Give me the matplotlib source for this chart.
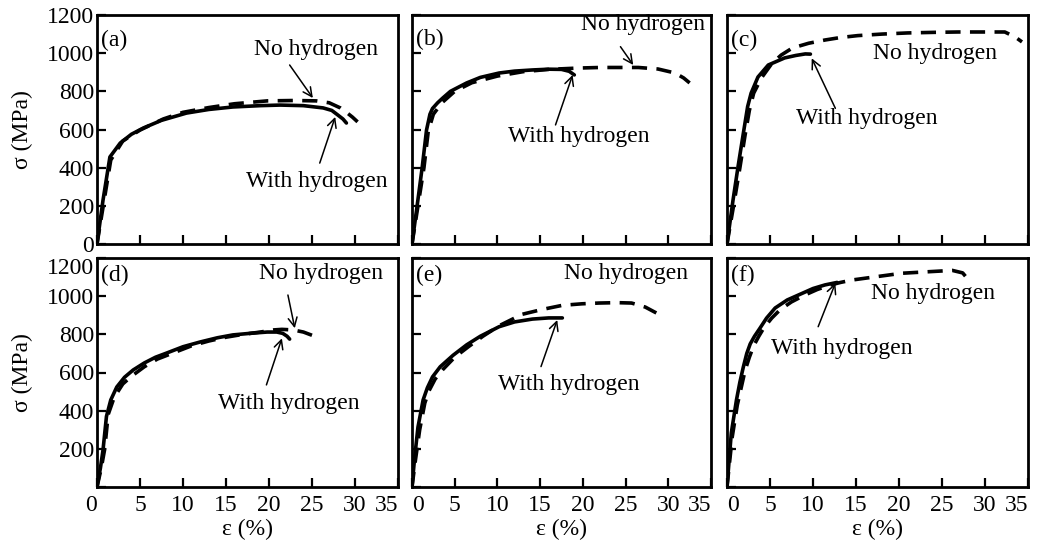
import matplotlib
matplotlib.use("Agg")
import matplotlib.pyplot as plt

plt.rcParams['font.family'] = ['Liberation Serif', 'DejaVu Serif']

# ---------------- data (strain %, stress MPa) ----------------
a_with_eps = [0, 0.7, 1.5, 2.7, 4, 5.4, 7.5, 10.4, 13, 15.8, 19, 21.3, 24, 26.3, 27.3, 28, 28.6, 29]
a_with_sig = [0, 230, 456, 529, 575, 608, 648, 686, 705, 718, 725, 728, 725, 713, 700, 676, 655, 634]
a_no_eps = [0, 0.8, 1.6, 3, 5, 7.7, 10, 13, 16, 19.8, 23, 25.5, 27, 28.3, 29, 29.7, 30.3]
a_no_sig = [0, 220, 440, 540, 597, 655, 690, 715, 735, 750, 752, 750, 740, 713, 690, 665, 640]

b_with_eps = [0, 0.6, 1.2, 1.7, 2.1, 2.4, 3.0, 3.6, 4.5, 6.4, 8, 10.2, 12, 14.1, 16, 17.5, 18.4, 19]
b_with_sig = [0, 200, 404, 597, 680, 710, 740, 765, 800, 844, 873, 896, 906, 912, 916, 915, 905, 886]
b_no_eps = [0, 0.7, 1.4, 1.9, 2.5, 3.5, 5, 7, 10, 13, 16, 19.5, 22, 24, 26.5, 28.8, 30.8, 31.8, 32.5]
b_no_sig = [0, 200, 400, 590, 680, 740, 800, 845, 880, 903, 915, 922, 925, 925, 925, 917, 896, 870, 844]

c_with_eps = [0, 0.7, 1.3, 1.9, 2.4, 2.8, 3.6, 4.8, 6.7, 8, 9.1, 9.7]
c_with_sig = [0, 230, 410, 580, 720, 790, 875, 938, 975, 988, 996, 995]
c_no_eps = [0, 0.8, 1.5, 2.1, 2.6, 3.1, 4.0, 5.2, 6.3, 7.6, 9.5, 11.4, 13.2, 15.2, 18, 21, 24, 26.9, 30, 32.3, 33.5, 34.3]
c_no_sig = [0, 210, 400, 570, 700, 790, 870, 945, 990, 1027, 1052, 1069, 1082, 1092, 1100, 1106, 1109, 1111, 1111, 1111, 1085, 1059]

d_with_eps = [0, 0.4, 0.7, 1.1, 1.6, 2.3, 3.2, 4.2, 5.5, 6.8, 8.1, 10, 12, 14, 15.8, 18, 19.8, 20.9, 21.6, 22.1, 22.4]
d_with_sig = [0, 100, 194, 370, 456, 524, 575, 613, 650, 680, 702, 735, 760, 782, 797, 806, 812, 812, 805, 790, 775]
d_no_eps = [0, 0.5, 0.9, 1.3, 2, 3, 4, 5.5, 7, 9, 11, 13, 15, 17, 19, 20.5, 21.5, 22.8, 24, 25, 25.6]
d_no_sig = [0, 100, 200, 380, 470, 540, 580, 630, 670, 705, 740, 765, 785, 800, 812, 823, 826, 823, 812, 795, 786]

e_with_eps = [0, 0.3, 0.7, 1.3, 1.8, 2.4, 3.3, 4.8, 6.4, 8, 10.2, 12, 14.1, 16, 17.6]
e_with_sig = [0, 150, 314, 456, 520, 577, 630, 690, 745, 790, 840, 865, 880, 886, 886]
e_no_eps = [0, 0.4, 0.9, 1.5, 2, 2.7, 3.6, 5, 6.6, 8.3, 10.2, 12.9, 15.2, 17.6, 19.9, 21.9, 24, 25.7, 27.3, 28.6]
e_no_sig = [0, 140, 300, 440, 505, 565, 615, 680, 735, 790, 845, 905, 930, 952, 960, 964, 966, 964, 943, 912]

f_with_eps = [0, 0.5, 1.1, 1.5, 1.9, 2.3, 2.7, 3.2, 3.8, 4.6, 5.6, 7, 8.3, 10, 11.4, 12.8]
f_with_sig = [0, 283, 456, 550, 629, 700, 750, 790, 830, 885, 938, 980, 1006, 1040, 1059, 1072]
f_no_eps = [0, 0.6, 1.2, 1.7, 2.1, 2.6, 3.1, 3.7, 4.3, 5.2, 6.2, 7.5, 9, 10.5, 12, 13.2, 14.6, 17.2, 20.3, 23, 26.2, 27.4, 27.9]
f_no_sig = [0, 260, 430, 530, 610, 680, 740, 790, 835, 885, 930, 970, 1005, 1035, 1058, 1072, 1085, 1101, 1120, 1127, 1135, 1122, 1095]

panel_labels = ['(a)', '(b)', '(c)', '(d)', '(e)', '(f)']
x_ticks = [0, 5, 10, 15, 20, 25, 30, 35]
y_ticks = [0, 200, 400, 600, 800, 1000, 1200]
no_h_text = 'No hydrogen'
with_h_text = 'With hydrogen'

series = [
    (a_with_eps, a_with_sig, a_no_eps, a_no_sig),
    (b_with_eps, b_with_sig, b_no_eps, b_no_sig),
    (c_with_eps, c_with_sig, c_no_eps, c_no_sig),
    (d_with_eps, d_with_sig, d_no_eps, d_no_sig),
    (e_with_eps, e_with_sig, e_no_eps, e_no_sig),
    (f_with_eps, f_with_sig, f_no_eps, f_no_sig),
]

# ---------------- layout (annotation placement, data coords) ----------------
annot = [
    ((25.5, 1017), ((22.4, 938), (25.1, 765)), (25.6, 325), ((25.9, 424), (27.7, 666))),
    ((27.0, 1148), ((24.4, 1034), (25.9, 938)), (19.5, 562), ((16.8, 624), (18.8, 886))),
    ((24.2, 999), None, (16.2, 659), ((12.6, 711), (9.85, 973))),
    ((26.0, 1120), ((22.2, 1006), (23.0, 832)), (22.3, 439), ((19.7, 535), (21.5, 779))),
    ((25.1, 1120), None, (18.3, 535), ((15.1, 631), (17.0, 875))),
    ((24.0, 1015), None, (13.4, 727), ((10.6, 840), (12.6, 1068))),
]
label_y = [0.89, 0.895, 0.89, 0.925, 0.925, 0.925]
first_xlabel_ha = ['center', 'center', 'center', 'right', 'left', 'left']

W, H = 1043, 542
cols = [(97, 398), (412, 711), (727, 1028)]
rows = [(15, 244), (258, 487)]

fig = plt.figure(figsize=(W / 100, H / 100), dpi=100)
FS = 17

for i in range(6):
    r, c = divmod(i, 3)
    x0, x1 = cols[c]
    y0, y1 = rows[r]
    ax = fig.add_axes([x0 / W, 1 - y1 / H, (x1 - x0) / W, (y1 - y0) / H])
    we, ws, ne, ns = series[i]
    ax.plot(ne, ns, color='black', lw=2.6, linestyle=(0, (4.2, 2.6)),
            dash_capstyle='butt', solid_capstyle='round')
    ax.plot(we, ws, color='black', lw=2.6, solid_capstyle='round',
            solid_joinstyle='round')
    ax.set_xlim(0, 35)
    ax.set_ylim(0, 1200)
    ax.set_xticks(x_ticks)
    ax.set_yticks(y_ticks)
    ax.tick_params(direction='in', length=6.5, width=1.6, labelsize=FS,
                   top=False, right=False)
    ax.tick_params(axis='x', pad=6)
    ax.tick_params(axis='y', pad=2)
    for s in ax.spines.values():
        s.set_linewidth(2.0)
    if c == 0:
        if r == 0:
            ax.set_yticklabels([str(v) for v in y_ticks])
        else:
            ax.set_yticklabels([''] + [str(v) for v in y_ticks[1:]])
            ax.yaxis.get_major_ticks()[-1].label1.set_verticalalignment('top')
        ax.set_ylabel('σ (MPa)', fontsize=FS, labelpad=10)
    else:
        ax.set_yticklabels([])
    if r == 1:
        ax.set_xticklabels([str(v) for v in x_ticks])
        ticks = ax.xaxis.get_major_ticks()
        ticks[0].label1.set_horizontalalignment(first_xlabel_ha[i])
        ticks[-1].label1.set_horizontalalignment('right')
        ax.set_xlabel('ε (%)', fontsize=FS, labelpad=2)
    else:
        ax.set_xticklabels([])
    ax.text(0.012, label_y[i], panel_labels[i], transform=ax.transAxes,
            fontsize=FS, ha='left', va='center')
    tno, ano, twi, awi = annot[i]
    ax.text(tno[0], tno[1], no_h_text, fontsize=FS, ha='center', va='center')
    ax.text(twi[0], twi[1], with_h_text, fontsize=FS, ha='center', va='center')
    for arr in (ano, awi):
        if arr is None:
            continue
        tail, head = arr
        ax.annotate('', xy=head, xytext=tail,
                    arrowprops=dict(arrowstyle='->', lw=1.1, color='black',
                                    mutation_scale=16, shrinkA=0, shrinkB=0))

fig.savefig('out.png', dpi=100)
